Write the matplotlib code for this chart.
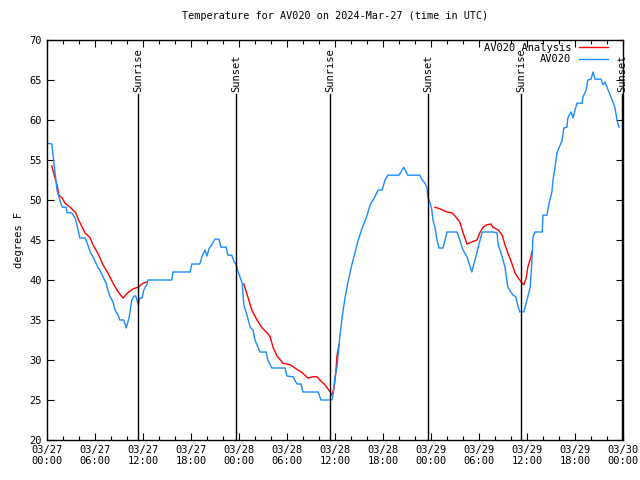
import matplotlib
matplotlib.use("Agg")
import matplotlib.pyplot as plt
from matplotlib.ticker import MultipleLocator

# hours since 2024-03-27 00:00 UTC
obs_hours = [0.0, 0.6, 0.9, 1.25, 1.6, 1.9, 2.4, 2.5, 3.1, 3.5, 3.75, 4.1, 4.75, 5.1, 5.4,
             5.75, 6.4, 6.6, 6.9, 7.4, 7.6, 7.9, 8.25, 8.5, 8.9, 9.1, 9.6, 9.9, 10.25, 10.6,
             10.9, 11.1, 11.4, 11.6, 11.9, 12.1, 12.5, 12.6, 15.6, 15.75, 17.9, 18.1, 19.1,
             19.4, 19.75, 20.0, 20.25, 20.6, 21.0, 21.5, 21.75, 22.4, 22.6, 23.1, 23.4, 23.6,
             23.9, 24.4, 24.6, 25.0, 25.4, 25.75, 26.0, 26.25, 26.6, 27.4, 27.6, 28.1, 29.75,
             30.0, 30.75, 31.25, 31.75, 32.0, 33.9, 34.25, 35.6, 35.75, 36.0, 36.25, 36.6,
             36.9, 37.25, 37.6, 38.1, 38.5, 38.9, 39.4, 39.9, 40.4, 40.9, 41.4, 41.9, 42.25,
             42.6, 44.0, 44.6, 45.1, 46.6, 46.9, 47.25, 47.5, 47.6, 47.9, 48.1, 48.25, 48.5,
             48.75, 49.0, 49.5, 50.0, 51.25, 51.6, 52.0, 52.5, 53.1, 53.5, 53.9, 54.4, 55.75,
             56.25, 56.4, 56.9, 57.25, 57.6, 58.25, 58.6, 58.9, 59.1, 59.6, 60.0, 60.4, 60.6,
             60.75, 61.0, 61.9, 62.0, 62.5, 62.75, 63.1, 63.25, 63.5, 63.75, 63.9, 64.4, 64.6,
             65.0, 65.1, 65.5, 65.75, 66.0, 66.25, 66.9, 67.0, 67.4, 67.6, 68.0, 68.25, 68.5,
             69.25, 69.5, 69.75, 70.0, 70.4, 70.75, 71.0, 71.25, 71.5]
obs_temp = [57.1, 57.0, 54.4, 51.25, 50.0, 49.1, 49.1, 48.4, 48.4, 47.75, 46.9, 45.25, 45.25,
            44.4, 43.5, 42.9, 41.5, 41.25, 40.6, 39.6, 38.75, 37.9, 37.25, 36.25, 35.6, 35.0,
            35.0, 34.0, 35.25, 37.5, 38.0, 38.0, 36.9, 37.75, 37.75, 38.75, 39.5, 40.0, 40.0,
            41.0, 41.0, 42.0, 42.0, 43.0, 43.75, 43.0, 43.9, 44.4, 45.1, 45.1, 44.1, 44.1,
            43.1, 43.1, 42.25, 42.0, 41.0, 39.6, 36.9, 35.6, 34.1, 33.75, 32.5, 31.9, 31.0,
            31.0, 30.0, 29.0, 29.0, 28.0, 27.9, 27.0, 27.0, 26.0, 26.0, 25.0, 25.0, 25.6,
            27.9, 29.1, 32.9, 35.4, 37.75, 39.6, 41.9, 43.4, 45.0, 46.5, 47.75, 49.4, 50.25,
            51.25, 51.25, 52.5, 53.1, 53.1, 54.1, 53.1, 53.1, 52.5, 52.1, 51.5, 50.4, 49.6,
            48.75, 47.5, 46.6, 45.0, 44.0, 44.0, 46.0, 46.0, 45.0, 43.75, 42.9, 41.0, 42.5,
            44.1, 46.0, 46.0, 45.9, 44.4, 42.9, 41.6, 39.1, 38.1, 37.9, 36.6, 36.0, 36.0,
            37.5, 39.1, 42.1, 45.4, 46.0, 46.0, 48.1, 48.1, 49.6, 50.9, 52.5, 54.1, 55.9,
            56.25, 57.5, 59.0, 59.1, 60.25, 61.0, 60.25, 61.25, 62.1, 62.1, 62.9, 63.75, 65.0,
            65.1, 66.0, 65.1, 65.1, 64.4, 64.75, 64.1, 63.1, 62.25, 61.5, 60.0, 59.1]

# analysis series, three separate pieces
ana1_hours = [0.6, 1.0, 1.25, 1.5, 1.9, 2.25, 2.9, 3.25, 3.6, 3.9, 4.4, 4.75, 5.4, 5.75, 6.4,
              7.0, 7.6, 8.25, 8.9, 9.5, 10.1, 10.75, 11.4, 12.0, 12.5]
ana1_temp = [54.25, 52.75, 51.9, 50.6, 50.25, 49.6, 49.1, 48.75, 48.4, 47.6, 46.6, 45.9, 45.25,
             44.4, 43.25, 41.9, 40.9, 39.6, 38.5, 37.75, 38.4, 38.9, 39.1, 39.6, 39.75]
ana2_hours = [24.6, 25.1, 25.6, 26.25, 26.9, 27.5, 27.9, 28.25, 28.75, 29.5, 30.4, 31.0, 31.9,
              32.6, 33.25, 33.75, 34.1, 34.75, 35.4, 35.6, 35.9, 36.1, 36.25, 36.5]
ana2_temp = [39.5, 37.9, 36.25, 35.0, 34.0, 33.4, 32.9, 31.6, 30.5, 29.6, 29.4, 29.0, 28.4,
             27.75, 27.9, 27.9, 27.5, 26.9, 26.0, 25.6, 26.6, 28.4, 30.6, 31.9]
ana3_hours = [48.5, 49.1, 50.0, 50.6, 51.0, 51.6, 52.0, 52.5, 53.1, 53.75, 54.1, 54.5, 55.0,
              55.5, 55.75, 56.4, 56.9, 57.25, 57.6, 58.1, 58.5, 58.9, 59.4, 59.6, 59.9, 60.1,
              60.5, 60.6]
ana3_temp = [49.1, 48.9, 48.5, 48.4, 48.0, 47.25, 45.9, 44.5, 44.75, 45.0, 45.9, 46.6, 46.9,
             47.0, 46.6, 46.25, 45.6, 44.4, 43.4, 42.1, 40.9, 40.25, 39.6, 39.4, 40.25, 41.6,
             42.9, 43.5]

sun_hours = [11.4, 23.6, 35.4, 47.6, 59.25, 71.9]
sun_labels = ["Sunrise", "Sunset", "Sunrise", "Sunset", "Sunrise", "Sunset"]

tick_hours = list(range(0, 73, 6))
tick_labels = ["03/27\n00:00", "03/27\n06:00", "03/27\n12:00", "03/27\n18:00",
               "03/28\n00:00", "03/28\n06:00", "03/28\n12:00", "03/28\n18:00",
               "03/29\n00:00", "03/29\n06:00", "03/29\n12:00", "03/29\n18:00",
               "03/30\n00:00"]

plt.rcParams["font.family"] = ["DejaVu Sans Mono"]
plt.rcParams["font.size"] = 7.5

fig = plt.figure(figsize=(6.4, 4.8), dpi=100)
ax = fig.add_axes([47 / 640, 40 / 480, 576 / 640, 400 / 480])

line_a, = ax.plot(ana1_hours, ana1_temp, color="#ff0000", lw=1, label="AV020 Analysis")
ax.plot(ana2_hours, ana2_temp, color="#ff0000", lw=1)
ax.plot(ana3_hours, ana3_temp, color="#ff0000", lw=1)
line_o, = ax.plot(obs_hours, obs_temp, color="#1a8cff", lw=1, label="AV020")

for h, lab in zip(sun_hours, sun_labels):
    ax.plot([h, h], [20, 63.2], color="black", lw=1)
    ax.text(h, 63.5, lab, rotation=90, ha="center", va="bottom")

ax.set_xlim(0, 72)
ax.set_ylim(20, 70)
ax.set_xticks(tick_hours)
ax.set_xticklabels(tick_labels)
ax.xaxis.set_minor_locator(MultipleLocator(2))
ax.set_yticks(range(20, 71, 5))
ax.tick_params(which="both", direction="in", top=True, right=True, width=0.8)
ax.tick_params(which="major", length=5)
ax.tick_params(which="minor", length=3)
for s in ax.spines.values():
    s.set_linewidth(1)

ax.set_ylabel("degrees F")
ax.set_title("Temperature for AV020 on 2024-Mar-27 (time in UTC)", pad=15, fontsize=7.3)
ax.legend(handles=[line_a, line_o], loc="upper right", frameon=False, markerfirst=False,
          handlelength=2.8, handletextpad=0.7, borderpad=0.2, borderaxespad=0.1,
          labelspacing=0.1, bbox_to_anchor=(0.979, 1.0))

fig.savefig("out.png", dpi=100)
